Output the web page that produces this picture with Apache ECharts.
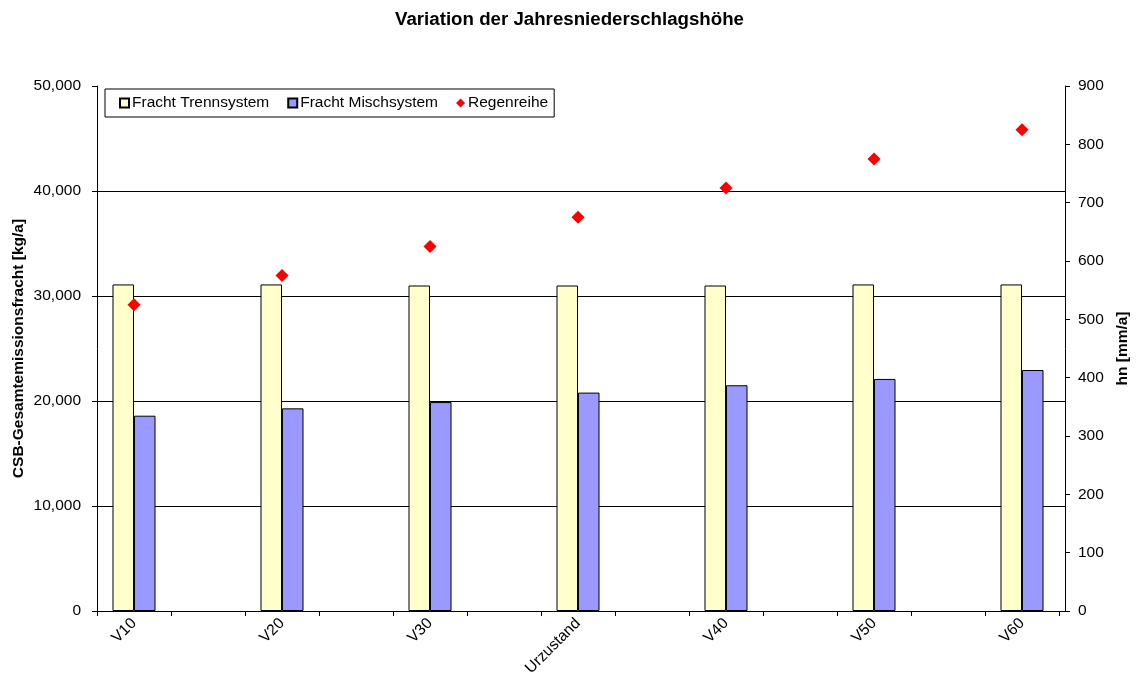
<!DOCTYPE html>
<html>
<head>
<meta charset="utf-8">
<script src="https://cdn.jsdelivr.net/npm/echarts@6/dist/echarts.min.js"></script>
<style>
  html, body { margin: 0; padding: 0; background: #fff; }
  #chart { width: 1139px; height: 693px; }
</style>
</head>
<body>
<div id="chart"></div>
<script>
// Scenario labels (one per scenario)
const scenarios = ['V10', 'V20', 'V30', 'Urzustand', 'V40', 'V50', 'V60'];
// CSB load, separate sewer system [kg/a]
const frachtTrenn = [31100, 31100, 31000, 31000, 31000, 31100, 31100];
// CSB load, combined sewer system [kg/a]
const frachtMisch = [18600, 19300, 19900, 20800, 21500, 22100, 22950];
// Annual precipitation depth [mm/a]
const regenreihe = [525, 575, 625, 675, 725, 775, 825];
// Axis tick settings
const leftTicks = { min: 0, max: 50000, interval: 10000 };
const rightTicks = { min: 0, max: 900, interval: 100 };

// Each scenario occupies one slot, followed by an empty spacer slot
const slots = [];
const slotTrenn = [], slotMisch = [], slotRegen = [];
scenarios.forEach((s, i) => {
  slots.push(s); slotTrenn.push(frachtTrenn[i]); slotMisch.push(frachtMisch[i]); slotRegen.push(regenreihe[i]);
  if (i < scenarios.length - 1) {
    slots.push(''); slotTrenn.push(null); slotMisch.push(null); slotRegen.push(null);
  }
});

const font = 'Liberation Sans, Arial, sans-serif';
const black = '#000';
const fs = 15.5;

const chart = echarts.init(document.getElementById('chart'), null, { renderer: 'canvas' });
chart.setOption({
  animation: false,
  backgroundColor: '#fff',
  title: {
    text: 'Variation der Jahresniederschlagshöhe',
    left: 'center', top: 5,
    textStyle: { fontFamily: font, fontSize: 18.7, fontWeight: 'bold', color: black }
  },
  legend: {
    left: 105, top: 89,
    padding: [6, 6, 6, 14],
    itemGap: 18,
    itemWidth: 9, itemHeight: 9,
    backgroundColor: '#fff',
    borderColor: black, borderWidth: 1,
    textStyle: { fontFamily: font, fontSize: fs, color: black, padding: [0, 0, 0, -2] },
    data: [
      { name: 'Fracht Trennsystem', icon: 'rect' },
      { name: 'Fracht Mischsystem', icon: 'rect' },
      { name: 'Regenreihe', icon: 'diamond', itemStyle: { borderWidth: 0 } }
    ]
  },
  grid: [
    { left: 97, right: 71, top: 86, bottom: 82 },
    { left: 97, right: 80, top: 86, bottom: 82 }
  ],
  xAxis: [
    {
      gridIndex: 0, type: 'value', min: 0, max: 1,
      axisLine: { show: true, lineStyle: { color: black, width: 1 } },
      axisTick: { show: false }, axisLabel: { show: false }, splitLine: { show: false }
    },
    {
      gridIndex: 1, type: 'category', data: slots, boundaryGap: true,
      axisLine: { show: false },
      axisTick: { show: true, interval: 0, length: 5, lineStyle: { color: black } },
      axisLabel: { interval: 0, rotate: 45, margin: 10, fontFamily: font, fontSize: fs, color: black },
      splitLine: { show: false }
    }
  ],
  yAxis: [
    {
      gridIndex: 0, type: 'value', position: 'left',
      min: leftTicks.min, max: leftTicks.max, interval: leftTicks.interval,
      name: 'CSB-Gesamtemissionsfracht [kg/a]', nameLocation: 'middle', nameGap: 70,
      nameMoveOverlap: false,
      nameTextStyle: { fontFamily: font, fontSize: fs, fontWeight: 'bold', color: black },
      axisLine: { show: true, lineStyle: { color: black } },
      axisTick: { show: true, length: 5, lineStyle: { color: black } },
      axisLabel: {
        fontFamily: font, fontSize: fs, color: black, margin: 16,
        formatter: v => v.toLocaleString('en-US')
      },
      splitLine: { show: true, showMinLine: false, showMaxLine: false, lineStyle: { color: black, width: 1 } }
    },
    {
      gridIndex: 0, type: 'value', position: 'right',
      min: rightTicks.min, max: rightTicks.max, interval: rightTicks.interval,
      name: 'hn [mm/a]', nameLocation: 'middle', nameGap: 50,
      nameMoveOverlap: false,
      nameTextStyle: { fontFamily: font, fontSize: fs, fontWeight: 'bold', color: black },
      axisLine: { show: true, lineStyle: { color: black } },
      axisTick: { show: true, length: 5, lineStyle: { color: black } },
      axisLabel: { fontFamily: font, fontSize: fs, color: black, margin: 13 },
      splitLine: { show: false }
    },
    {
      gridIndex: 1, type: 'value', min: leftTicks.min, max: leftTicks.max, show: false
    },
    {
      gridIndex: 1, type: 'value', min: rightTicks.min, max: rightTicks.max, show: false
    }
  ],
  series: [
    {
      name: 'Fracht Trennsystem', type: 'bar', xAxisIndex: 1, yAxisIndex: 2,
      data: slotTrenn, barWidth: 21.5, barGap: '0%',
      itemStyle: { color: '#FFFFCC', borderColor: black, borderWidth: 1 }
    },
    {
      name: 'Fracht Mischsystem', type: 'bar', xAxisIndex: 1, yAxisIndex: 2,
      data: slotMisch, barWidth: 21.5, barGap: '0%',
      itemStyle: { color: '#9999FF', borderColor: black, borderWidth: 1 }
    },
    {
      name: 'Regenreihe', type: 'scatter', xAxisIndex: 1, yAxisIndex: 3,
      data: slotRegen, symbol: 'diamond', symbolSize: 13,
      itemStyle: { color: '#FF0000', opacity: 1 }, emphasis: { disabled: true }, z: 5
    }
  ]
});
</script>
</body>
</html>
